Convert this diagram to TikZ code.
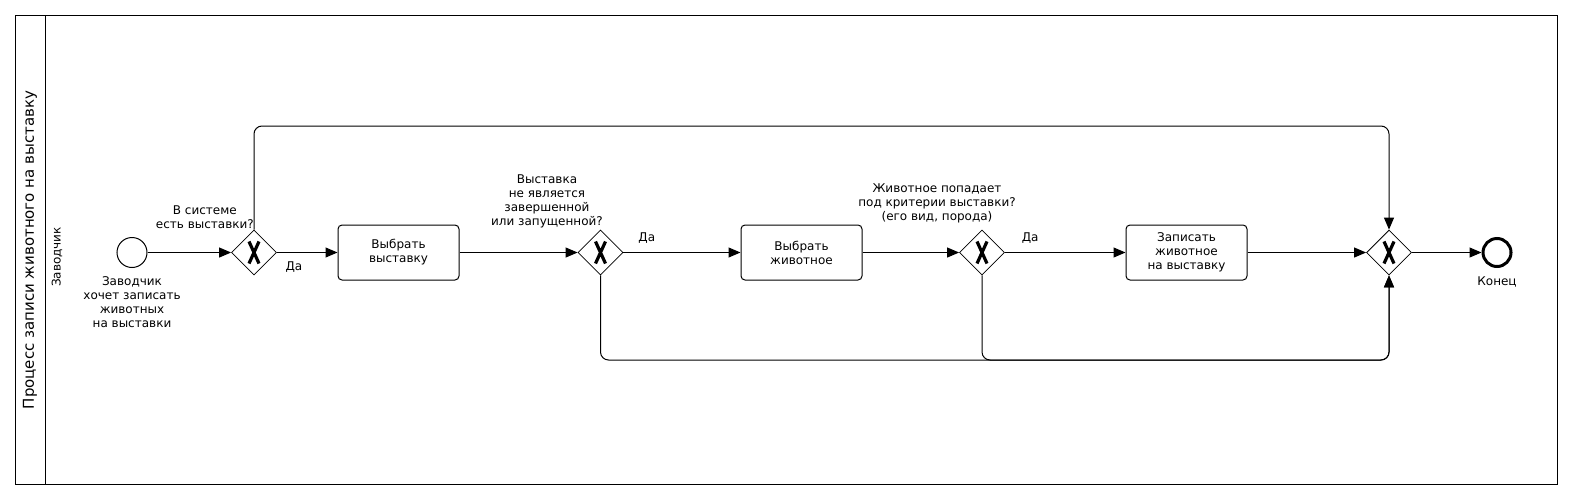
\documentclass[tikz,border=0pt]{standalone}
\usepackage{fontspec}
\setmainfont{DejaVu Sans}
\usepackage{tikz}
\usetikzlibrary{arrows.meta}
\usetikzlibrary{shapes.geometric}
\usetikzlibrary{positioning}

\tikzset{
    txt/.style={font=\fontsize{12pt}{14pt}\selectfont, align=center, inner sep=0pt},
    task/.style={txt, draw, rounded corners=4pt, line width=1pt,
        minimum width=121pt, minimum height=55pt},
    gate/.style={draw, diamond, line width=0.8pt, minimum width=45pt,
        minimum height=45pt, inner sep=0pt},
    startev/.style={draw, circle, line width=1pt, minimum size=30pt, inner sep=0pt},
    endev/.style={draw, circle, line width=3pt, minimum size=28pt, inner sep=0pt},
    flow/.style={line width=1pt, -{Triangle[length=12pt,width=10pt]}},
    xmark/.style={line width=3.2pt}
}

\begin{document}
\begin{tikzpicture}[x=1pt,y=-1pt]
        \useasboundingbox (0,0) rectangle (1574,501);
        % pool and lane
        \draw[line width=1pt] (15,15) rectangle (1557,484);
        \draw[line width=1pt] (45,15) -- (45,484);
        \node[rotate=90, font=\fontsize{15pt}{17pt}\selectfont] (pool) at (30,250) {Процесс записи животного на выставку};
        \node[txt, rotate=90] (lane) at (57,257) {Заводчик};

        % flow nodes
        \node[startev] (start) at (132,252.5) {};
        \node[gate] (gwa) at (254,252.5) {};
        \node[task] (taska) at (398.5,252.5) {Выбрать\\выставку};
        \node[gate] (gwb) at (600.5,252.5) {};
        \node[task] (taskb) at (801.5,252.5) {Выбрать\\животное};
        \node[gate] (gwc) at (982,252.5) {};
        \node[task] (taskc) at (1186.5,252.5) {Записать\\животное\\на выставку};
        \node[gate] (gwd) at (1389,252.5) {};
        \node[endev] (finish) at (1497,252.5) {};

        % X markers
        \foreach \g in {gwa,gwb,gwc,gwd}
            \draw[xmark] ([shift={(-5,-11)}]\g.center) -- ([shift={(5,11)}]\g.center)
                         ([shift={(5,-11)}]\g.center) -- ([shift={(-5,11)}]\g.center);

        % labels
        \node[txt, below=8pt of start] (startlbl) {Заводчик\\хочет записать\\животных\\на выставки};
        \node[txt, below=9pt of finish] (endlbl) {Конец};
        \node[txt, anchor=south east] (qa) at ([yshift=1pt]gwa.north) {В системе\\есть выставки?};
        \node[txt, anchor=south east] (qb) at ([xshift=2.5pt,yshift=1pt]gwb.north) {Выставка\\не является\\завершенной\\или запущенной?};
        \node[txt, anchor=south] (qc) at ([xshift=-45pt,yshift=6pt]gwc.north) {Животное попадает\\под критерии выставки?\\(его вид, порода)};

        % routing points
        \coordinate (top) at (0,126);
        \coordinate (bot) at (0,360);

        % sequence flows
        \draw[flow] (start) -- (gwa);
        \draw[flow] (gwa) -- node[txt, pos=.28, below=9pt] {Да} (taska);
        \draw[flow] (taska) -- (gwb);
        \draw[flow] (gwb) -- node[txt, pos=.2, above=9pt] {Да} (taskb);
        \draw[flow] (taskb) -- (gwc);
        \draw[flow] (gwc) -- node[txt, pos=.21, above=9pt] {Да} (taskc);
        \draw[flow] (taskc) -- (gwd);
        \draw[flow] (gwd) -- (finish);
        \draw[flow, rounded corners=8pt] (gwa.north) -- (gwa.north |- top) -- (gwd.north |- top) -- (gwd.north);
        \draw[flow, rounded corners=8pt] (gwb.south) -- (gwb.south |- bot) -- (gwd.south |- bot) -- (gwd.south);
        \draw[flow, rounded corners=8pt] (gwc.south) -- (gwc.south |- bot) -- (gwd.south |- bot) -- (gwd.south);
    \end{tikzpicture}
\end{document}
